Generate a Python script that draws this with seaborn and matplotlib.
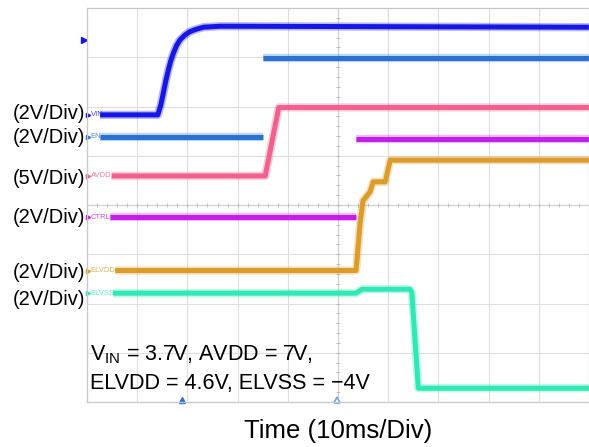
import numpy as np
import pandas as pd
import matplotlib
matplotlib.use("Agg")
import matplotlib.pyplot as plt
import seaborn as sns

# time in divisions (10ms/div), level in divisions (screen 10 x 8)
vin_t = [0.26, 1.41, 1.47, 1.52, 1.57, 1.62, 1.67, 1.72, 1.78, 1.85, 1.95, 2.05, 2.18, 2.32, 2.65, 10.0]
vin_v = [5.83, 5.83, 6.03, 6.27, 6.52, 6.74, 6.93, 7.08, 7.23, 7.35, 7.45, 7.52, 7.57, 7.61, 7.63, 7.61]
vin_s = [0] * 16

en_t = [0.26, 3.50, 3.50, 10.0]
en_v = [5.39, 5.39, 6.99, 6.99]
en_s = [0, 0, 1, 1]

avdd_t = [0.49, 3.55, 3.82, 10.0]
avdd_v = [4.59, 4.59, 5.98, 5.98]
avdd_s = [0, 0, 0, 0]

ctrl_t = [0.46, 5.36, 5.36, 10.0]
ctrl_v = [3.75, 3.75, 5.35, 5.35]
ctrl_s = [0, 0, 1, 1]

elvdd_t = [0.56, 5.36, 5.44, 5.50, 5.64, 5.70, 5.94, 6.04, 10.0]
elvdd_v = [2.67, 2.67, 3.63, 4.09, 4.27, 4.47, 4.47, 4.91, 4.91]
elvdd_s = [0] * 9

elvss_t = [0.52, 5.36, 5.48, 6.43, 6.47, 6.60, 10.0]
elvss_v = [2.21, 2.21, 2.29, 2.29, 2.23, 0.28, 0.28]
elvss_s = [0] * 7

channels = ["VIN", "EN", "AVDD", "CTRL", "ELVDD", "ELVSS"]
scales = ["(2V/Div)", "(2V/Div)", "(5V/Div)", "(2V/Div)", "(2V/Div)", "(2V/Div)"]
scale_y = [5.85, 5.38, 4.53, 3.74, 2.62, 2.09]
marker_y = [5.83, 5.39, 4.59, 3.75, 2.67, 2.21]
colors = {"VIN": "#1717e3", "EN": "#2a72cf", "AVDD": "#f2608e",
          "CTRL": "#c41ee8", "ELVDD": "#dc9c2a", "ELVSS": "#30e8b6"}

traces = {"VIN": (vin_t, vin_v, vin_s), "EN": (en_t, en_v, en_s),
          "AVDD": (avdd_t, avdd_v, avdd_s), "CTRL": (ctrl_t, ctrl_v, ctrl_s),
          "ELVDD": (elvdd_t, elvdd_v, elvdd_s), "ELVSS": (elvss_t, elvss_v, elvss_s)}

frames = []
for name, (t, v, s) in traces.items():
    frames.append(pd.DataFrame({"t": t, "v": v, "seg": [f"{name}{k}" for k in s],
                                "ch": name}))
df = pd.concat(frames, ignore_index=True)

sns.set_style("white")
plt.rcParams["font.family"] = ["Liberation Sans", "DejaVu Sans"]
plt.rcParams["text.color"] = "black"

fig = plt.figure(figsize=(5.89, 4.47), dpi=100)
ax = fig.add_axes([87 / 589, 45 / 447, 502 / 589, 394 / 447])
ax.set_xlim(0, 10)
ax.set_ylim(0, 8)

# graticule
for x in range(0, 11):
    ax.axvline(x, color="#dedede", lw=0.8, zorder=0)
for y in range(0, 9):
    ax.axhline(y, color="#dedede", lw=0.8, zorder=0)
ax.axvline(5, color="#d0d0d0", lw=0.8, zorder=0)
ax.axhline(4, color="#d0d0d0", lw=0.8, zorder=0)
minor = np.arange(0, 10.01, 0.2)
ax.plot(minor, np.full_like(minor, 4), ls="none", marker="|", ms=3,
        color="#b8b8b8", mew=0.6, zorder=0)
minor_y = np.arange(0, 8.01, 0.2)
ax.plot(np.full_like(minor_y, 5), minor_y, ls="none", marker="_", ms=3,
        color="#b8b8b8", mew=0.6, zorder=0)

# traces: soft halo then core
sns.lineplot(data=df, x="t", y="v", hue="ch", units="seg", estimator=None,
             sort=False, palette=colors, lw=6.0, alpha=0.3, legend=False,
             solid_capstyle="butt", ax=ax)
sns.lineplot(data=df, x="t", y="v", hue="ch", units="seg", estimator=None,
             sort=False, palette=colors, lw=3.6, legend=False,
             solid_capstyle="butt", ax=ax)

# channel markers and labels
for name, sc, sy, my in zip(channels, scales, scale_y, marker_y):
    ax.plot([0.02], [my], marker=">", ms=3, color=colors[name], clip_on=False)
    ax.text(0.07, my, name, fontsize=5.5, color=colors[name], alpha=0.8,
            va="center", ha="left")
    ax.text(-0.03, sy, sc, fontsize=14.5, ha="right", va="center",
            clip_on=False)

ax.plot([-0.06], [7.35], marker=">", ms=4, color="#1717e3", clip_on=False)
ax.plot([1.89], [0.05], marker="^", ms=5, color="#2a72cf", clip_on=False)
ax.plot([4.99], [0.05], marker="^", ms=5, mfc="white", mec="#6aa6e0",
        mew=1.2, clip_on=False)

ax.text(0.06, 0.85, r"V$_\mathregular{IN}$ = 3.7V, AVDD = 7V,", fontsize=15.5,
        va="baseline", ha="left")
ax.text(0.06, 0.26, "ELVDD = 4.6V, ELVSS = \u22124V", fontsize=15.5,
        va="baseline", ha="left")

ax.set_xticks([])
ax.set_yticks([])
ax.set_xlabel("")
ax.set_ylabel("")
for sp in ax.spines.values():
    sp.set_color("#c8c8c8")
    sp.set_linewidth(0.9)

fig.text(338 / 589, 1 - 438 / 447, "Time (10ms/Div)", fontsize=18.5,
         ha="center", va="baseline")

fig.savefig("out.png", dpi=100)
